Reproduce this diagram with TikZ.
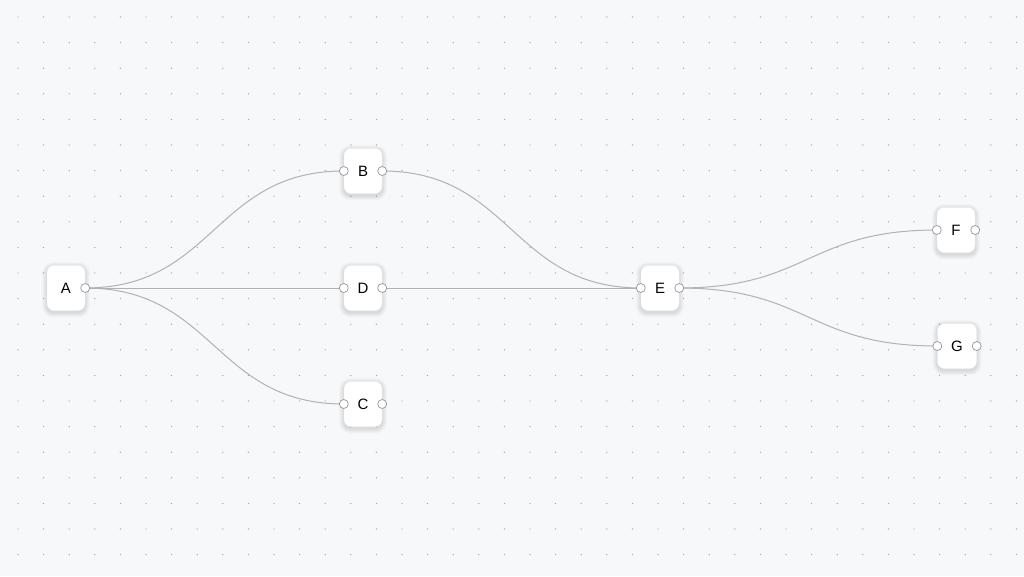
\documentclass[tikz,border=0pt]{standalone}
\usepackage{fontspec}
\setmainfont{Liberation Sans}
\usetikzlibrary{calc}
\pgfdeclarelayer{bottom}
\pgfdeclarelayer{shadow}
\pgfsetlayers{bottom,shadow,main}
\definecolor{bgc}{RGB}{247,248,250}
\definecolor{dotc}{RGB}{165,165,170}
\definecolor{edgec}{RGB}{177,177,183}
\definecolor{handc}{RGB}{150,150,155}
\definecolor{boxc}{RGB}{240,240,243}
\tikzset{
  flownode/.style={rectangle, rounded corners=7pt, fill=white, draw=boxc, line width=0.4pt,
    minimum width=38pt, minimum height=45pt, inner sep=0pt,
    font=\fontsize{15}{17}\selectfont},
  flowedge/.style={draw=edgec, line width=1pt},
  handle/.style={circle, fill=white, draw=handc, line width=0.7pt, minimum size=9pt, inner sep=0pt},
  shadowring/.style={fill=black, fill opacity=0.013},
  bez/.style={to path={let \p1=(\tikztostart), \p2=(\tikztotarget) in
     .. controls ({0.5*\x1+0.5*\x2},\y1) and ({0.5*\x1+0.5*\x2},\y2) .. (\tikztotarget)}}
}
\newcommand\castshadow[1]{%
  \begin{pgfonlayer}{shadow}
  \foreach \k in {0.5,1,...,5}{
    \fill[shadowring, rounded corners={7pt+\k pt}]
      ($(#1.north west)+(-\k pt,\k pt-1.5pt)$) rectangle ($(#1.south east)+(\k pt,-\k pt-2pt)$);
  }
  \end{pgfonlayer}}
\begin{document}
\begin{tikzpicture}[x=1pt,y=-1pt]
\useasboundingbox (0,0) rectangle (1024,576);
\begin{pgfonlayer}{bottom}
\fill[bgc] (0,0) rectangle (1024,576);
\foreach \i in {0,...,39}{
  \foreach \j in {0,...,21}{
    \fill[dotc] ({18+25.6*\i},{17+25.6*\j}) circle (0.7);
  }
}
\end{pgfonlayer}
% nodes
\node[flownode] (A) at (66,288) {A};
\node[flownode] (B) at (363,171) {B};
\node[flownode] (D) at (363,288) {D};
\node[flownode] (C) at (363,404) {C};
\node[flownode] (E) at (660,288) {E};
\node[flownode] (F) at (956,230) {F};
\node[flownode, minimum width=39pt] (G) at (957,346) {G};
\castshadow{A}\castshadow{B}\castshadow{D}\castshadow{C}
\castshadow{E}\castshadow{F}\castshadow{G}
% edges
\draw[flowedge] (A.east) to[bez] (B.west);
\draw[flowedge] (A.east) to[bez] (D.west);
\draw[flowedge] (A.east) to[bez] (C.west);
\draw[flowedge] (B.east) to[bez] (E.west);
\draw[flowedge] (D.east) to[bez] (E.west);
\draw[flowedge] (E.east) to[bez] (F.west);
\draw[flowedge] (E.east) to[bez] (G.west);
% handles
\node[handle] (Ao) at (A.east) {};
\node[handle] (Bi) at (B.west) {};
\node[handle] (Bo) at (B.east) {};
\node[handle] (Di) at (D.west) {};
\node[handle] (Do) at (D.east) {};
\node[handle] (Ci) at (C.west) {};
\node[handle] (Co) at (C.east) {};
\node[handle] (Ei) at (E.west) {};
\node[handle] (Eo) at (E.east) {};
\node[handle] (Fi) at (F.west) {};
\node[handle] (Fo) at (F.east) {};
\node[handle] (Gi) at (G.west) {};
\node[handle] (Go) at (G.east) {};
\end{tikzpicture}
\end{document}
